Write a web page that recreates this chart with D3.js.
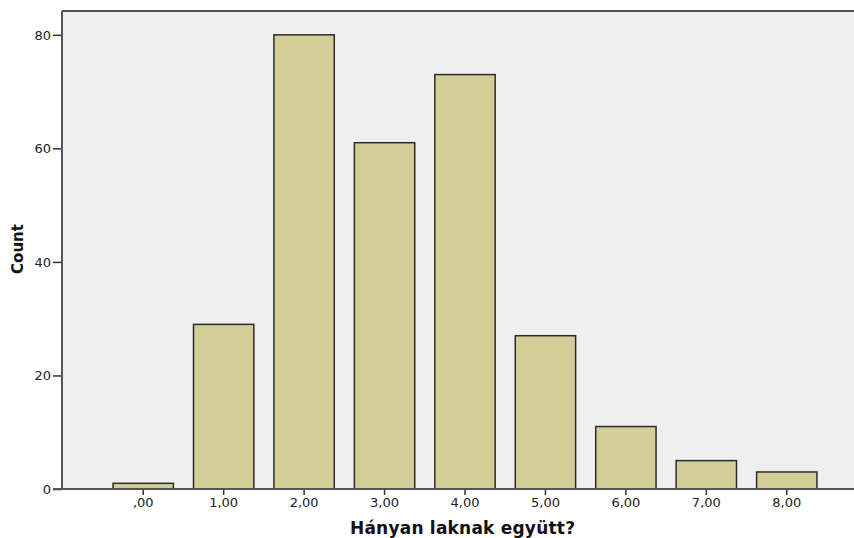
<!DOCTYPE html>
<html lang="hu">
  <head>
    <meta charset="UTF-8" />
    <title>Hányan laknak együtt?</title>
    <style>
      html, body { margin: 0; background: #fff; }
      svg { display: block; font-family: "DejaVu Sans", sans-serif; }
    </style>
    <script src="https://cdn.jsdelivr.net/npm/d3@7"></script>
  </head>
  <body>
    <svg id="chart" width="854" height="538"></svg>
    <script>
      // data
      const categories = [",00", "1,00", "2,00", "3,00", "4,00", "5,00", "6,00", "7,00", "8,00"];
      const counts = [1, 29, 80, 61, 73, 27, 11, 5, 3];
      const yTicks = [0, 20, 40, 60, 80];

      const svg = d3.select("#chart");
      const plot = { left: 62, top: 11, right: 870, bottom: 489 };

      const x = d3.scaleBand()
        .domain(categories)
        .range([103, 827])
        .paddingInner(0.25)
        .paddingOuter(0.125);

      const y = d3.scaleLinear()
        .domain([0, 84.2])
        .range([plot.bottom, plot.top]);

      // background panel
      svg.append("rect")
        .attr("x", plot.left)
        .attr("y", plot.top)
        .attr("width", plot.right - plot.left)
        .attr("height", plot.bottom - plot.top)
        .attr("fill", "#efefef");

      // top frame line
      svg.append("line")
        .attr("x1", plot.left).attr("x2", plot.right)
        .attr("y1", plot.top).attr("y2", plot.top)
        .attr("stroke", "#555").attr("stroke-width", 2);

      // bars
      svg.append("g")
        .selectAll("rect")
        .data(counts)
        .join("rect")
        .attr("x", (d, i) => x(categories[i]))
        .attr("y", (d) => y(d))
        .attr("width", x.bandwidth())
        .attr("height", (d) => y(0) - y(d))
        .attr("fill", "#d3ce98")
        .attr("stroke", "#2b2b2b")
        .attr("stroke-width", 1.5);

      // y axis
      const yAxis = svg.append("g")
        .attr("transform", `translate(${plot.left},0)`)
        .call(d3.axisLeft(y).tickValues(yTicks).tickSize(9).tickPadding(2));
      yAxis.select(".domain").remove();
      yAxis.append("line")
        .attr("y1", plot.top).attr("y2", plot.bottom)
        .attr("stroke", "#555").attr("stroke-width", 2);
      yAxis.selectAll(".tick line").attr("stroke", "#333").attr("stroke-width", 1.5);
      yAxis.selectAll(".tick text").attr("fill", "#222")
        .attr("font-family", "'DejaVu Sans', sans-serif").style("font-size", "13px");

      // x axis
      const xAxis = svg.append("g")
        .attr("transform", `translate(0,${plot.bottom})`)
        .call(d3.axisBottom(x).tickSize(6).tickPadding(3));
      xAxis.select(".domain").remove();
      xAxis.append("line")
        .attr("x1", plot.left - 9).attr("x2", plot.right)
        .attr("stroke", "#555").attr("stroke-width", 2);
      xAxis.selectAll(".tick line").attr("stroke", "#333").attr("stroke-width", 1.5);
      xAxis.selectAll(".tick text").attr("fill", "#222")
        .attr("font-family", "'DejaVu Sans', sans-serif").style("font-size", "13px");

      // axis titles
      svg.append("text")
        .attr("transform", "translate(23,249) rotate(-90)")
        .attr("text-anchor", "middle")
        .attr("font-weight", "bold")
        .attr("font-size", 15)
        .attr("fill", "#111")
        .text("Count");

      svg.append("text")
        .attr("x", 350)
        .attr("y", 534)
        .attr("font-weight", "bold")
        .attr("font-size", 17)
        .attr("fill", "#111")
        .attr("textLength", 225)
        .attr("lengthAdjust", "spacing")
        .text("Hányan laknak együtt?");
    </script>
  </body>
</html>
